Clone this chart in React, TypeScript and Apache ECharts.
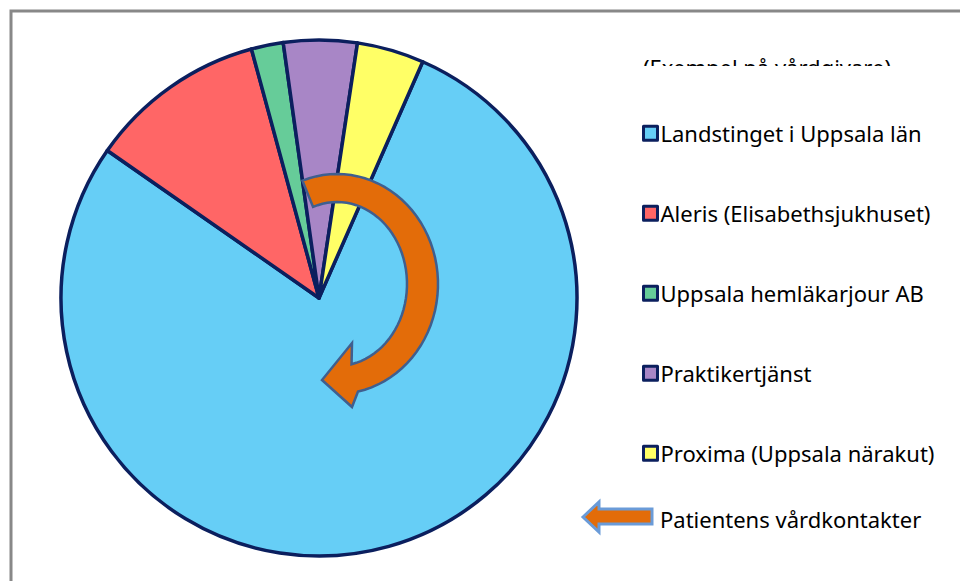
import React, { useEffect, useRef } from "react";
import * as echarts from "echarts";

const categories = [
  "Landstinget i Uppsala län",
  "Aleris (Elisabethsjukhuset)",
  "Uppsala hemläkarjour AB",
  "Praktikertjänst",
  "Proxima (Uppsala närakut)",
];
const shares = [78.1, 11.1, 2.0, 4.6, 4.2];
const sliceColors = ["#66CEF6", "#FF6666", "#66CC99", "#A886C6", "#FFFF66"];
const legendTitle = "(Exempel på vårdgivare)";
const flowLabel = "Patientens vårdkontakter";

const FONT = "'Noto Sans', 'Open Sans', sans-serif";
const NAVY = "#0B1F5E";
const FS = 22;

function curvedArrowPoints(): number[][] {
  const cx = 337, cy = 284;
  const orx = 101, ory = 110, irx = 70, iry = 82;
  const a0 = -20, a1 = 168;
  const pts: number[][] = [];
  const p = (rx: number, ry: number, deg: number) => {
    const t = (deg * Math.PI) / 180;
    return [cx + rx * Math.sin(t), cy - ry * Math.cos(t)];
  };
  for (let a = a0; a <= a1; a += 4) pts.push(p(orx, ory, a));
  pts.push(p(orx, ory, a1));
  pts.push([352, 407]);
  pts.push([322, 380]);
  pts.push([352, 343]);
  for (let a = a1; a >= a0; a -= 4) pts.push(p(irx, iry, a));
  pts.push(p(irx, iry, a0));
  return pts;
}

export default function App() {
  const ref = useRef<HTMLDivElement>(null);
  useEffect(() => {
    if (!ref.current) return;
    const chart = echarts.init(ref.current, null, { renderer: "svg" });
    chart.setOption({
      animation: false,
      backgroundColor: "#ffffff",
      title: {
        text: legendTitle,
        left: 638,
        top: 51,
        textStyle: { fontFamily: FONT, fontSize: FS, fontWeight: "normal", color: "#000" },
      },
      legend: {
        orient: "vertical",
        left: 637,
        top: 116,
        itemGap: 55.5,
        itemWidth: 14,
        itemHeight: 14,
        icon: "rect",
        data: categories,
        itemStyle: { borderColor: NAVY, borderWidth: 3 },
        textStyle: { fontFamily: FONT, fontSize: FS, color: "#000", lineHeight: 24.5, padding: [0, 0, 0, -2] },
      },
      series: [
        {
          type: "pie",
          center: [319, 298],
          radius: 258,
          startAngle: 66.3,
          clockwise: true,
          label: { show: false },
          labelLine: { show: false },
          emphasis: { disabled: true },
          silent: true,
          itemStyle: { borderColor: NAVY, borderWidth: 3.5 },
          data: categories.map((name, i) => ({
            name,
            value: shares[i],
            itemStyle: { color: sliceColors[i] },
          })),
        },
      ],
      graphic: [
        {
          type: "rect",
          z: 100,
          shape: { x: 600, y: 66, width: 340, height: 30 },
          style: { fill: "#ffffff" },
        },
        {
          type: "polyline",
          z: 100,
          shape: { points: [[11, 590], [11, 11], [970, 11]] },
          style: { stroke: "#888888", lineWidth: 3, fill: "none" },
        },
        {
          type: "polygon",
          z: 100,
          shape: { points: curvedArrowPoints() },
          style: { fill: "#E36C09", stroke: "#3F5F8F", lineWidth: 2.5 },
        },
        {
          type: "polygon",
          z: 100,
          shape: {
            points: [
              [583, 517],
              [599, 502],
              [599, 509],
              [652, 509],
              [652, 524],
              [599, 524],
              [599, 532],
            ],
          },
          style: { fill: "#E36C09", stroke: "#6A9BD8", lineWidth: 3 },
        },
        {
          type: "text",
          z: 100,
          x: 660,
          y: 519,
          style: {
            text: flowLabel,
            fontFamily: FONT,
            fontSize: FS,
            fill: "#000",
            verticalAlign: "middle",
          },
        },
      ],
    });
    return () => chart.dispose();
  }, []);
  return (
    <div
      ref={ref}
      style={{ position: "fixed", left: 0, top: 0, width: 960, height: 581 }}
    />
  );
}
